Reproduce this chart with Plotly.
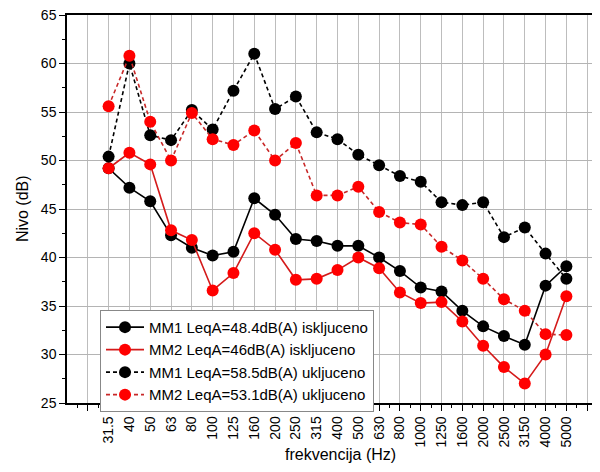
import plotly.graph_objects as go

freq_labels = ["31.5", "40", "50", "63", "80", "100", "125", "160", "200", "250", "315",
               "400", "500", "630", "800", "1000", "1250", "1600", "2000", "2500", "3150",
               "4000", "5000"]

mm1_iskl = [49.2, 47.2, 45.8, 42.3, 41.0, 40.2, 40.6, 46.1, 44.4, 41.9, 41.7,
            41.2, 41.2, 40.0, 38.6, 36.9, 36.5, 34.5, 32.9, 31.9, 31.0, 37.1, 39.1]
mm2_iskl = [49.2, 50.8, 49.6, 42.8, 41.8, 36.6, 38.4, 42.5, 40.8, 37.7, 37.8,
            38.7, 40.0, 38.9, 36.4, 35.3, 35.4, 33.4, 30.9, 28.7, 27.0, 30.0, 36.0]
mm1_uklj = [50.4, 60.0, 52.6, 52.1, 55.2, 53.2, 57.2, 61.0, 55.3, 56.6, 52.9,
            52.2, 50.6, 49.5, 48.4, 47.8, 45.7, 45.4, 45.7, 42.1, 43.1, 40.4, 37.8]
mm2_uklj = [55.6, 60.8, 54.0, 50.0, 54.9, 52.2, 51.6, 53.1, 50.0, 51.8, 46.4,
            46.4, 47.3, 44.7, 43.6, 43.4, 41.1, 39.7, 37.8, 35.7, 34.5, 32.1, 32.0]

series_names = ["MM1 LeqA=48.4dB(A) iskljuceno", "MM2 LeqA=46dB(A) iskljuceno",
                "MM1 LeqA=58.5dB(A) ukljuceno", "MM2 LeqA=53.1dB(A) ukljuceno"]

xi = list(range(len(freq_labels)))
# extra unlabeled grid positions before and after the categories
grid_vals = [-1] + xi + [len(freq_labels)]
grid_text = [""] + freq_labels + [""]

fig = go.Figure()
styles = [
    (mm1_iskl, "black", "black", "solid"),
    (mm2_iskl, "#d41a1a", "#ff0000", "solid"),
    (mm1_uklj, "black", "black", "4px,3px"),
    (mm2_uklj, "#c82828", "#ff0000", "4px,3px"),
]
for (vals, lc, mc, dash), name in zip(styles, series_names):
    fig.add_trace(go.Scatter(
        x=xi, y=vals, name=name, mode="lines+markers",
        line=dict(color=lc, width=1.6, dash=dash),
        marker=dict(color=mc, size=12, line=dict(width=0)),
    ))

fig.update_layout(
    width=600, height=472,
    margin=dict(l=59, r=0, t=7, b=77, autoexpand=False),
    paper_bgcolor="white", plot_bgcolor="white",
    font=dict(family="Liberation Sans, Arial, sans-serif", color="black"),
    legend=dict(
        x=0.061, y=0.24, xanchor="left", yanchor="top",
        bgcolor="white", bordercolor="#888888", borderwidth=1,
        font=dict(size=15), tracegroupgap=0, itemwidth=38,
    ),
    showlegend=True,
    annotations=[
        dict(text="frekvencija (Hz)", xref="paper", yref="paper", x=0.505, y=-0.134,
             xanchor="center", yanchor="middle", showarrow=False, font=dict(size=16)),
        dict(text="Nivo (dB)", xref="paper", yref="paper", x=-0.083, y=0.5,
             xanchor="center", yanchor="middle", showarrow=False, textangle=-90,
             font=dict(size=16)),
    ],
)
fig.update_xaxes(
    range=[-2, 24], automargin=False,
    tickmode="array", tickvals=grid_vals, ticktext=grid_text,
    tickangle=-90, tickfont=dict(size=14), ticklabeloverflow="allow",
    ticks="outside", ticklen=6, tickcolor="black",
    showline=True, linecolor="black", linewidth=1.5, mirror=True,
    showgrid=True, gridcolor="#bdbdbd", gridwidth=1, zeroline=False,
    minor=dict(tickmode="linear", tick0=-1.5, dtick=1, ticks="outside", ticklen=3,
               tickcolor="black", showgrid=False),
)
fig.update_yaxes(
    range=[25, 65], automargin=False,
    tickmode="linear", tick0=25, dtick=5, tickfont=dict(size=14),
    ticklabeloverflow="allow",
    ticks="outside", ticklen=6, tickcolor="black",
    showline=True, linecolor="black", linewidth=1.5,
    showgrid=True, gridcolor="#b4b4b4", gridwidth=1, zeroline=False,
    minor=dict(dtick=2.5, ticks="outside", ticklen=3, tickcolor="black", showgrid=False),
)

fig.write_html("out.html")
